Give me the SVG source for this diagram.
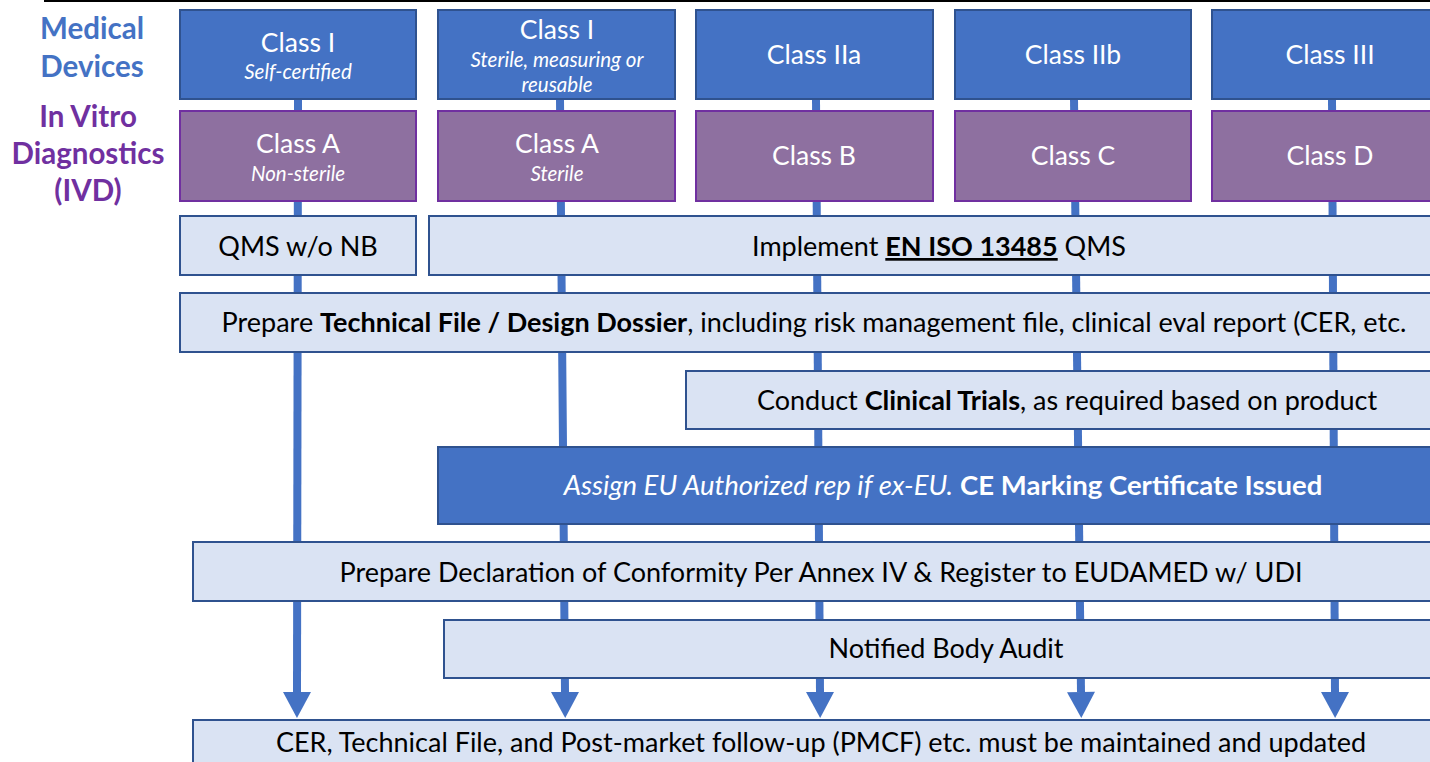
<svg xmlns="http://www.w3.org/2000/svg" width="1430" height="762" viewBox="0 0 1430 762">
<defs>
<style>
text{font-family:Lato,"Liberation Sans",sans-serif;text-anchor:middle}
.dk{fill:#4472C4;stroke:#2F528F;stroke-width:2}
.pu{fill:#8E70A0;stroke:#7030A0;stroke-width:2}
.lt{fill:#DAE3F3;stroke:#2F528F;stroke-width:2}
.wt{fill:#FFFFFF}
.bk{fill:#000000}
.big{font-size:26.5px}
.sub{font-size:20.5px;font-style:italic}
.row{font-size:27px}
.conn{fill:none;stroke:#4472C4;stroke-width:8}
.lbl{font-size:29.5px;font-weight:bold}
</style>
<marker id="ah" markerUnits="userSpaceOnUse" markerWidth="28" markerHeight="28" viewBox="0 0 27 28" refX="0" refY="14" orient="auto">
<path d="M0,0 L26,14 L0,28 z" fill="#4472C4"/>
</marker>
</defs>
<rect width="1430" height="762" fill="#FFFFFF"/>
<line x1="44" y1="1" x2="1430" y2="1" stroke="#000" stroke-width="2"/>
<g id="labels">
<text class="lbl" x="92" y="39" fill="#4472C4">Medical</text>
<text class="lbl" x="92" y="77" fill="#4472C4">Devices</text>
<text class="lbl" x="88" y="127" fill="#7030A0">In Vitro</text>
<text class="lbl" x="88" y="164" fill="#7030A0">Diagnostics</text>
<text class="lbl" x="88" y="201" fill="#7030A0">(IVD)</text>
</g>
<g id="connectors">
<path class="conn" d="M298,99 L297,692" marker-end="url(#ah)"/>
<path class="conn" d="M560,99 L563,447 L565,692" marker-end="url(#ah)"/>
<path class="conn" d="M816,99 L820,692" marker-end="url(#ah)"/>
<path class="conn" d="M1074,99 L1081,692" marker-end="url(#ah)"/>
<path class="conn" d="M1332,99 L1335,692" marker-end="url(#ah)"/>
</g>
<g id="md-class-i">
<rect class="dk" x="180" y="10" width="236" height="89"/>
<text class="big wt" x="298" y="52">Class I</text>
<text class="sub wt" x="298" y="79">Self-certified</text>
</g>
<g id="md-class-i-sterile">
<rect class="dk" x="438" y="10" width="237" height="89"/>
<text class="big wt" x="557" y="39">Class I</text>
<text class="sub wt" x="557" y="67">Sterile, measuring or</text>
<text class="sub wt" x="557" y="92">reusable</text>
</g>
<g id="md-class-iia">
<rect class="dk" x="696" y="10" width="237" height="89"/>
<text class="big wt" x="814" y="64">Class IIa</text>
</g>
<g id="md-class-iib">
<rect class="dk" x="955" y="10" width="236" height="89"/>
<text class="big wt" x="1073" y="64">Class IIb</text>
</g>
<g id="md-class-iii">
<rect class="dk" x="1212" y="10" width="240" height="89"/>
<text class="big wt" x="1330" y="64">Class III</text>
</g>
<g id="ivd-class-a">
<rect class="pu" x="180" y="111" width="236" height="90"/>
<text class="big wt" x="298" y="153">Class A</text>
<text class="sub wt" x="298" y="181">Non-sterile</text>
</g>
<g id="ivd-class-a-sterile">
<rect class="pu" x="438" y="111" width="237" height="90"/>
<text class="big wt" x="557" y="153">Class A</text>
<text class="sub wt" x="557" y="181">Sterile</text>
</g>
<g id="ivd-class-b">
<rect class="pu" x="696" y="111" width="237" height="90"/>
<text class="big wt" x="814" y="165">Class B</text>
</g>
<g id="ivd-class-c">
<rect class="pu" x="955" y="111" width="236" height="90"/>
<text class="big wt" x="1073" y="165">Class C</text>
</g>
<g id="ivd-class-d">
<rect class="pu" x="1212" y="111" width="240" height="90"/>
<text class="big wt" x="1330" y="165">Class D</text>
</g>
<g id="qms-wo-nb">
<rect class="lt" x="180" y="216" width="236" height="59"/>
<text class="row bk" x="298" y="256">QMS w/o NB</text>
</g>
<g id="implement-qms">
<rect class="lt" x="429" y="216" width="1020" height="59"/>
<text class="row bk" x="939" y="256">Implement <tspan font-weight="bold" text-decoration="underline">EN ISO 13485</tspan> QMS</text>
</g>
<g id="technical-file">
<rect class="lt" x="180" y="293" width="1270" height="59"/>
<text class="row bk" x="814" y="332">Prepare <tspan font-weight="bold">Technical File / Design Dossier</tspan>, including risk management file, clinical eval report (CER, etc.</text>
</g>
<g id="clinical-trials">
<rect class="lt" x="686" y="371" width="764" height="58"/>
<text class="row bk" x="1067" y="410">Conduct <tspan font-weight="bold">Clinical Trials</tspan>, as required based on product</text>
</g>
<g id="ce-marking">
<rect class="dk" x="438" y="447" width="1012" height="77"/>
<text class="row wt" x="943" y="495" style="font-size:27.5px"><tspan font-style="italic">Assign EU Authorized rep if ex-EU.</tspan> <tspan font-weight="bold">CE Marking Certificate Issued</tspan></text>
</g>
<g id="declaration">
<rect class="lt" x="193" y="542" width="1257" height="59"/>
<text class="row bk" x="821" y="582">Prepare Declaration of Conformity Per Annex IV &amp; Register to EUDAMED w/ UDI</text>
</g>
<g id="nb-audit">
<rect class="lt" x="444" y="620" width="1006" height="58"/>
<text class="row bk" x="946" y="658">Notified Body Audit</text>
</g>
<g id="maintain">
<rect class="lt" x="193" y="720" width="1257" height="60"/>
<text class="row bk" x="821" y="752">CER, Technical File, and Post-market follow-up (PMCF) etc. must be maintained and updated</text>
</g>
</svg>
